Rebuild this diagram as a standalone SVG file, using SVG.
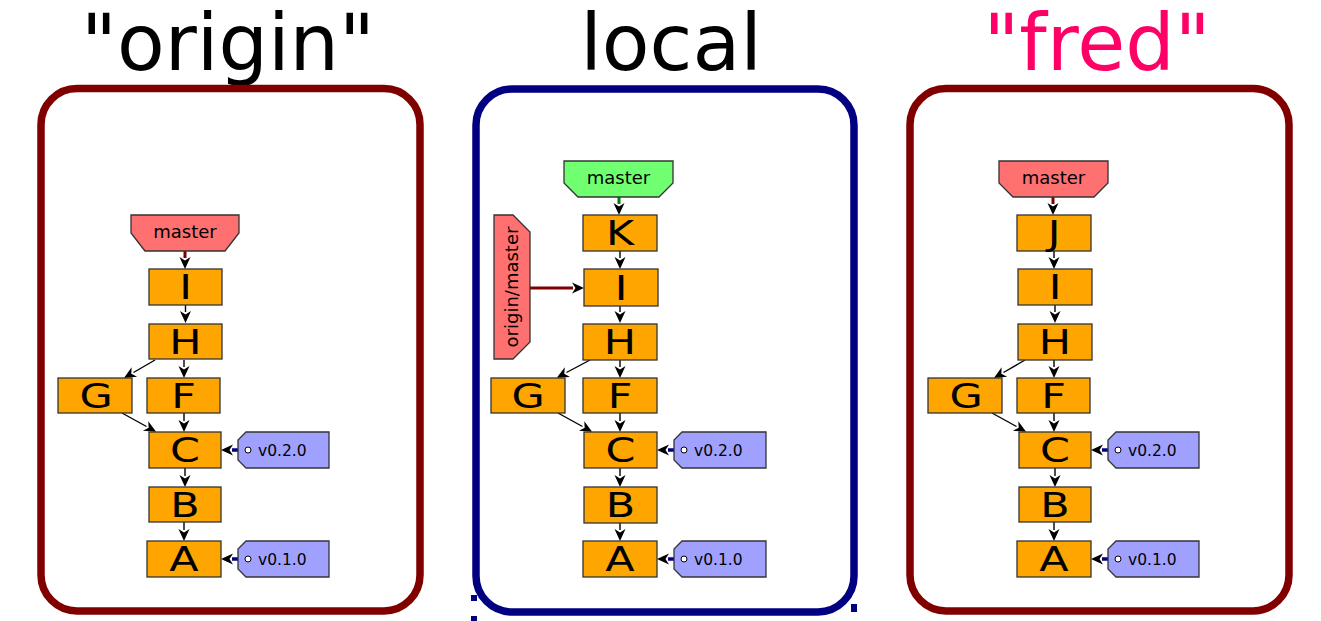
<svg xmlns="http://www.w3.org/2000/svg" width="1321" height="621" viewBox="0 0 1321 621">
<style>
text{font-family:"DejaVu Sans","Liberation Sans",sans-serif;}
.title{font-size:78px;text-anchor:middle;fill:#000;}
.box{fill:none;stroke-width:7.5;}
.commit rect{fill:#ffa500;stroke:#333;stroke-width:1.3;}
.commit text{font-size:33px;text-anchor:middle;fill:#000;}
.branch polygon{stroke:#333;stroke-width:1.3;}
.branch text{font-size:18px;text-anchor:middle;fill:#000;}
.red polygon{fill:#ff7070;}
.green polygon{fill:#70ff70;}
.tag polygon{fill:#a0a0ff;stroke:#333;stroke-width:1.3;}
.tag circle{fill:#fff;stroke:#000;stroke-width:1;}
.tag text{font-size:15.5px;fill:#000;}
.e{stroke:#000;stroke-width:1.4;fill:none;marker-end:url(#ah);}
.er{stroke:#800000;stroke-width:3;fill:none;marker-end:url(#ah);}
.eg{stroke:#008000;stroke-width:3;fill:none;marker-end:url(#ah);}
.en{stroke:#000080;stroke-width:3.5;fill:none;marker-end:url(#ah);}
</style>
<defs>
<marker id="ah" markerUnits="userSpaceOnUse" markerWidth="16" markerHeight="14" viewBox="-2 -7 16 14" refX="0" refY="0" orient="auto" overflow="visible">
<path d="M11,0 L-1,-5.5 L2.5,0 L-1,5.5 Z" fill="#000"/>
</marker>
</defs>
<rect width="1321" height="621" fill="#fff"/>

<g id="titles">
<text class="title" x="228" y="70">"origin"</text>
<text class="title" x="671" y="70">local</text>
<text class="title" x="1097" y="70" style="fill:#ff0066">"fred"</text>
</g>

<g id="containers">
<rect id="box-origin" class="box" x="41" y="88.5" width="379" height="522.5" rx="36" stroke="#800000"/>
<rect id="box-local" class="box" x="476" y="89" width="378" height="523" rx="36" stroke="#000080"/>
<rect x="471" y="595" width="6" height="6" fill="#000080"/>
<rect x="471" y="616" width="6" height="5" fill="#000080"/>
<rect x="851" y="604" width="6" height="8" fill="#000080"/>
<rect id="box-fred" class="box" x="910" y="88.5" width="379" height="522.5" rx="36" stroke="#800000"/>
</g>

<g id="connectors">
<!-- origin -->
<line class="er" x1="185" y1="251" x2="185" y2="258"/>
<line class="e" x1="185.5" y1="305" x2="185.5" y2="312"/>
<line class="e" x1="155" y1="360" x2="133.5" y2="372.5"/>
<line class="e" x1="184" y1="360" x2="184" y2="367"/>
<line class="e" x1="122" y1="413" x2="146.5" y2="426.5"/>
<line class="e" x1="184" y1="413" x2="184" y2="421"/>
<line class="e" x1="185" y1="468" x2="185" y2="476"/>
<line class="e" x1="184" y1="522" x2="184" y2="530"/>
<line class="en" x1="238" y1="450" x2="232" y2="450"/>
<line class="en" x1="239" y1="559" x2="232" y2="559"/>
<!-- local -->
<line class="eg" x1="619" y1="197" x2="619" y2="204"/>
<line class="e" x1="620" y1="251" x2="620" y2="258"/>
<line class="e" x1="620" y1="306" x2="620" y2="312"/>
<line class="e" x1="590" y1="360" x2="566.5" y2="372.5"/>
<line class="e" x1="620" y1="360" x2="620" y2="367"/>
<line class="e" x1="558" y1="413" x2="582.5" y2="426.5"/>
<line class="e" x1="620" y1="413" x2="620" y2="421"/>
<line class="e" x1="620" y1="468" x2="620" y2="476"/>
<line class="e" x1="620" y1="523" x2="620" y2="530"/>
<line class="er" x1="530" y1="288" x2="573" y2="288"/>
<line class="en" x1="674" y1="450" x2="668" y2="450"/>
<line class="en" x1="674" y1="559" x2="668" y2="559"/>
<!-- fred -->
<line class="er" x1="1053" y1="197" x2="1053" y2="204"/>
<line class="e" x1="1054" y1="251" x2="1054" y2="258"/>
<line class="e" x1="1055" y1="305" x2="1055" y2="312"/>
<line class="e" x1="1025" y1="360" x2="1003.5" y2="372.5"/>
<line class="e" x1="1054" y1="360" x2="1054" y2="367"/>
<line class="e" x1="992" y1="413" x2="1016.5" y2="426.5"/>
<line class="e" x1="1054" y1="413" x2="1054" y2="421"/>
<line class="e" x1="1055" y1="468" x2="1055" y2="476"/>
<line class="e" x1="1054" y1="522" x2="1054" y2="530"/>
<line class="en" x1="1108" y1="450" x2="1102" y2="450"/>
<line class="en" x1="1109" y1="559" x2="1102" y2="559"/>
</g>

<!-- origin nodes -->
<g id="origin-master" class="branch red"><polygon points="131,215 239,215 239,233 225,251 145,251 131,233"/><text x="185" y="238">master</text></g>
<g id="origin-I" class="commit"><rect x="149" y="269" width="73" height="36"/><text transform="translate(185.5,299) scale(1.3,1)">I</text></g>
<g id="origin-H" class="commit"><rect x="149" y="324" width="73" height="35"/><text transform="translate(185.5,354) scale(1.3,1)">H</text></g>
<g id="origin-G" class="commit"><rect x="58" y="378" width="74" height="35"/><text transform="translate(96,408) scale(1.3,1)">G</text></g>
<g id="origin-F" class="commit"><rect x="147" y="378" width="73" height="35"/><text transform="translate(183.5,408) scale(1.3,1)">F</text></g>
<g id="origin-C" class="commit"><rect x="149" y="432" width="72" height="36"/><text transform="translate(185,462) scale(1.3,1)">C</text></g>
<g id="origin-B" class="commit"><rect x="149" y="487" width="72" height="35"/><text transform="translate(185,517) scale(1.3,1)">B</text></g>
<g id="origin-A" class="commit"><rect x="147" y="541" width="74" height="36"/><text transform="translate(184,571) scale(1.3,1)">A</text></g>
<g id="origin-v020" class="tag"><polygon points="246,432 329,432 329,468 246,468 238,460 238,440"/><circle cx="248" cy="450" r="3"/><text x="258" y="456">v0.2.0</text></g>
<g id="origin-v010" class="tag"><polygon points="246,541 329,541 329,577 246,577 238,569 238,549"/><circle cx="248" cy="559" r="3"/><text x="258" y="565">v0.1.0</text></g>

<!-- local nodes -->
<g id="local-master" class="branch green"><polygon points="564,161 673,161 673,183 659,197 578,197 564,183"/><text x="618.5" y="184">master</text></g>
<g id="local-origin-master" class="branch red"><polygon points="494,215 513,215 530,232 530,342 513,359 494,359"/><text transform="translate(518,287) rotate(-90)">origin/master</text></g>
<g id="local-K" class="commit"><rect x="583" y="215" width="74" height="36"/><text transform="translate(620,245) scale(1.3,1)">K</text></g>
<g id="local-I" class="commit"><rect x="584" y="269" width="74" height="37"/><text transform="translate(621,299.5) scale(1.3,1)">I</text></g>
<g id="local-H" class="commit"><rect x="583" y="324" width="74" height="36"/><text transform="translate(620,354) scale(1.3,1)">H</text></g>
<g id="local-G" class="commit"><rect x="491" y="378" width="74" height="35"/><text transform="translate(528,408) scale(1.3,1)">G</text></g>
<g id="local-F" class="commit"><rect x="583" y="378" width="74" height="35"/><text transform="translate(620,408) scale(1.3,1)">F</text></g>
<g id="local-C" class="commit"><rect x="584" y="432" width="73" height="36"/><text transform="translate(620.5,462) scale(1.3,1)">C</text></g>
<g id="local-B" class="commit"><rect x="584" y="487" width="73" height="36"/><text transform="translate(620.5,517) scale(1.3,1)">B</text></g>
<g id="local-A" class="commit"><rect x="583" y="541" width="74" height="36"/><text transform="translate(620,571) scale(1.3,1)">A</text></g>
<g id="local-v020" class="tag"><polygon points="682,432 766,432 766,468 682,468 674,460 674,440"/><circle cx="684" cy="450" r="3"/><text x="694" y="456">v0.2.0</text></g>
<g id="local-v010" class="tag"><polygon points="682,541 766,541 766,577 682,577 674,569 674,549"/><circle cx="684" cy="559" r="3"/><text x="694" y="565">v0.1.0</text></g>

<!-- fred nodes -->
<g id="fred-master" class="branch red"><polygon points="999,161 1108,161 1108,183 1094,197 1013,197 999,183"/><text x="1053.5" y="184">master</text></g>
<g id="fred-J" class="commit"><rect x="1017" y="215" width="74" height="36"/><text transform="translate(1054,245) scale(1.3,1)">J</text></g>
<g id="fred-I" class="commit"><rect x="1018" y="269" width="74" height="36"/><text transform="translate(1055,299) scale(1.3,1)">I</text></g>
<g id="fred-H" class="commit"><rect x="1018" y="324" width="74" height="36"/><text transform="translate(1055,354) scale(1.3,1)">H</text></g>
<g id="fred-G" class="commit"><rect x="928" y="378" width="74" height="35"/><text transform="translate(966,408) scale(1.3,1)">G</text></g>
<g id="fred-F" class="commit"><rect x="1017" y="378" width="73" height="35"/><text transform="translate(1053.5,408) scale(1.3,1)">F</text></g>
<g id="fred-C" class="commit"><rect x="1019" y="432" width="72" height="36"/><text transform="translate(1055,462) scale(1.3,1)">C</text></g>
<g id="fred-B" class="commit"><rect x="1019" y="487" width="72" height="35"/><text transform="translate(1055,517) scale(1.3,1)">B</text></g>
<g id="fred-A" class="commit"><rect x="1017" y="541" width="74" height="36"/><text transform="translate(1054,571) scale(1.3,1)">A</text></g>
<g id="fred-v020" class="tag"><polygon points="1116,432 1199,432 1199,468 1116,468 1108,460 1108,440"/><circle cx="1118" cy="450" r="3"/><text x="1128" y="456">v0.2.0</text></g>
<g id="fred-v010" class="tag"><polygon points="1116,541 1199,541 1199,577 1116,577 1108,569 1108,549"/><circle cx="1118" cy="559" r="3"/><text x="1128" y="565">v0.1.0</text></g>
</svg>
